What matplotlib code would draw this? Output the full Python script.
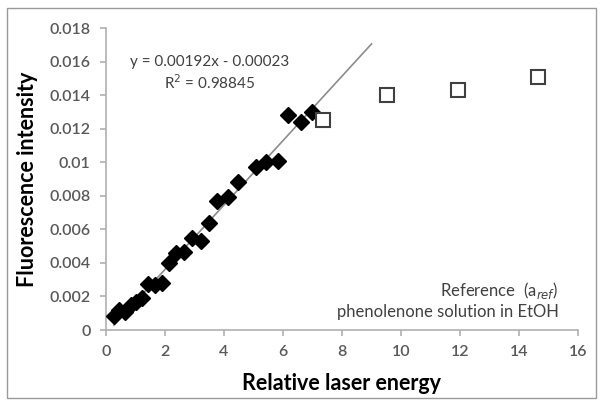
import matplotlib
matplotlib.use("Agg")
import matplotlib.pyplot as plt
from matplotlib.patches import Rectangle

# Filled diamonds (fitted data)
diam_x = [0.27, 0.44, 0.65, 0.85, 1.02, 1.22, 1.43, 1.67, 1.90, 2.14, 2.38, 2.65,
          2.93, 3.23, 3.50, 3.77, 4.12, 4.46, 5.10, 5.44, 5.82, 6.16, 6.60, 6.97]
diam_y = [0.00083, 0.00119, 0.00107, 0.00149, 0.00167, 0.00191, 0.00274, 0.00268,
          0.00280, 0.00400, 0.00460, 0.00465, 0.00550, 0.00530, 0.00640, 0.00770,
          0.00790, 0.00880, 0.00970, 0.01000, 0.01010, 0.01280, 0.01240, 0.01300]
# Open squares (saturation)
sq_x = [7.35, 9.52, 11.94, 14.63]
sq_y = [0.01252, 0.01400, 0.01430, 0.01508]

slope = 0.00192
intercept = -0.00023
fit_range = [0.27, 9.0]

x_ticks = [0, 2, 4, 6, 8, 10, 12, 14, 16]
y_ticks = [0, 0.002, 0.004, 0.006, 0.008, 0.01, 0.012, 0.014, 0.016, 0.018]
y_ticklabels = ["0", "0.002", "0.004", "0.006", "0.008", "0.01", "0.012",
                "0.014", "0.016", "0.018"]

plt.rcParams['font.family'] = ['Lato', 'DejaVu Sans']

fig = plt.figure(figsize=(6.01, 4.03), dpi=100)
fig.patches.append(Rectangle((7/601, 1-398/403), 589/601, 390/403,
                             transform=fig.transFigure, fill=False,
                             edgecolor='#9a9a9a', linewidth=1.0))
ax = fig.add_axes([106/601, 1-330/403, 472/601, 302/403])

fx = fit_range
fy = [slope*v + intercept for v in fx]
ax.plot(fx, fy, color='#8c8c8c', linewidth=1.2, zorder=2)
ax.plot(diam_x, diam_y, linestyle='none', marker='D', markersize=8.5,
        color='black', zorder=3)
ax.plot(sq_x, sq_y, linestyle='none', marker='s', markersize=10,
        markerfacecolor='white', markeredgecolor='#404040', markeredgewidth=1.5,
        zorder=3)

ax.set_xlim(0, 16)
ax.set_ylim(0, 0.018)
ax.set_xticks(x_ticks)
ax.set_yticks(y_ticks)
ax.set_yticklabels(y_ticklabels)
for s in ['top', 'right']:
    ax.spines[s].set_visible(False)
for s in ['left', 'bottom']:
    ax.spines[s].set_color('#b0b0b0')
    ax.spines[s].set_linewidth(1.2)
ax.tick_params(direction='out', length=4, color='#b0b0b0', width=1.2,
               labelsize=11.5, labelcolor='#595959', pad=7)
for lab in ax.get_xticklabels() + ax.get_yticklabels():
    lab.set_fontweight('semibold')

ax.set_xlabel("Relative laser energy", fontsize=15.5, fontweight='bold', labelpad=10)
ax.set_ylabel("Fluorescence intensity", fontsize=15.5, fontweight='bold', labelpad=8)

ax.text(3.5, 0.01597, "y = 0.00192x - 0.00023", ha='center', va='center',
        fontsize=11, color='#404040')
ax.text(3.5, 0.01472, "R$^2$ = 0.98845", ha='center', va='center',
        fontsize=11, color='#404040')
ax.text(15.34, 0.00238, r"Reference  (a$_{ref}$)", ha='right', va='center',
        fontsize=12, color='#404040')
ax.text(15.34, 0.00107, "phenolenone solution in EtOH", ha='right', va='center',
        fontsize=12, color='#404040')

fig.savefig("out.png", dpi=100)
